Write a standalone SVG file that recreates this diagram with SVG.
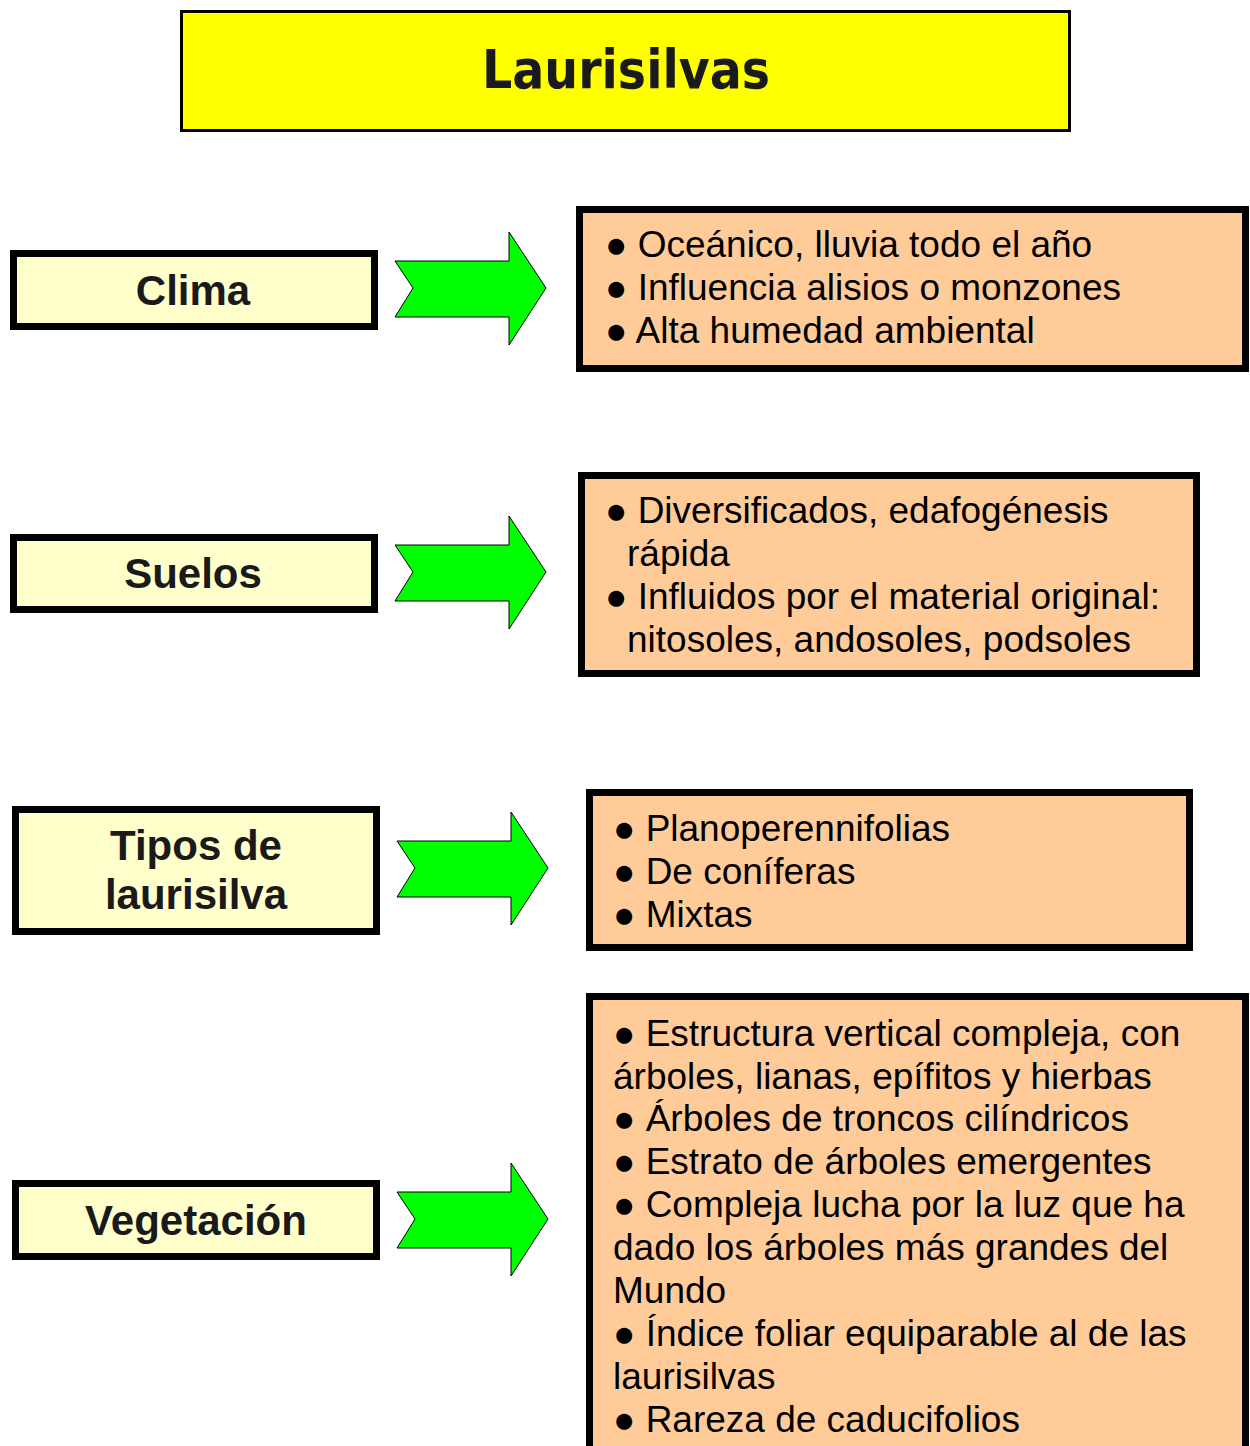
<svg xmlns="http://www.w3.org/2000/svg" width="1250" height="1446" viewBox="0 0 1250 1446">
<defs>
<style>
.title{fill:#ffff00;stroke:#000;stroke-width:3}
.ttxt{font-family:"Comic Sans MS","DejaVu Sans",sans-serif;font-weight:bold;font-size:54px;fill:#1a1a1a;text-anchor:middle}
.lbl{fill:#ffffcc;stroke:#000;stroke-width:7}
.ltxt{font-family:"Liberation Sans",Arial,sans-serif;font-weight:bold;font-size:42px;fill:#1a1a1a;text-anchor:middle}
.cnt{fill:#ffcc99;stroke:#000;stroke-width:7}
.ctxt{font-family:"Liberation Sans",Arial,sans-serif;font-size:37px;fill:#000}
.arr{fill:#00ff00;stroke:#000;stroke-width:1}
</style>
</defs>
<rect width="1250" height="1446" fill="#fff"/>
<g id="title">
<rect class="title" x="181.5" y="11.5" width="888" height="119"/>
<text class="ttxt" x="626" y="88" textLength="288" lengthAdjust="spacingAndGlyphs">Laurisilvas</text>
</g>
<g id="clima">
<rect class="lbl" x="13.5" y="253.5" width="361" height="73"/>
<text class="ltxt" x="193" y="305">Clima</text>
</g>
<g id="clima-info">
<rect class="cnt" x="579.5" y="209.5" width="666" height="159"/>
<text class="ctxt" x="605" y="257">● Oceánico, lluvia todo el año</text>
<text class="ctxt" x="605" y="300">● Influencia alisios o monzones</text>
<text class="ctxt" x="605" y="343">● Alta humedad ambiental</text>
</g>
<g id="suelos">
<rect class="lbl" x="13.5" y="537.5" width="361" height="72"/>
<text class="ltxt" x="193" y="588">Suelos</text>
</g>
<g id="suelos-info">
<rect class="cnt" x="581.5" y="475.5" width="615" height="198"/>
<text class="ctxt" x="605" y="523">● Diversificados, edafogénesis</text>
<text class="ctxt" x="627" y="566">rápida</text>
<text class="ctxt" x="605" y="609">● Influidos por el material original:</text>
<text class="ctxt" x="627" y="652">nitosoles, andosoles, podsoles</text>
</g>
<g id="tipos">
<rect class="lbl" x="15.5" y="809.5" width="361" height="122"/>
<text class="ltxt" x="196" y="860">Tipos de</text>
<text class="ltxt" x="196" y="909">laurisilva</text>
</g>
<g id="tipos-info">
<rect class="cnt" x="589.5" y="792.5" width="600" height="155"/>
<text class="ctxt" x="613" y="841">● Planoperennifolias</text>
<text class="ctxt" x="613" y="884">● De coníferas</text>
<text class="ctxt" x="613" y="927">● Mixtas</text>
</g>
<g id="vegetacion">
<rect class="lbl" x="15.5" y="1183.5" width="361" height="73"/>
<text class="ltxt" x="196" y="1235">Vegetación</text>
</g>
<g id="vegetacion-info">
<rect class="cnt" x="589.5" y="996.5" width="656" height="470"/>
<text class="ctxt" x="613" y="1046">● Estructura vertical compleja, con</text>
<text class="ctxt" x="613" y="1089">árboles, lianas, epífitos y hierbas</text>
<text class="ctxt" x="613" y="1131">● Árboles de troncos cilíndricos</text>
<text class="ctxt" x="613" y="1174">● Estrato de árboles emergentes</text>
<text class="ctxt" x="613" y="1217">● Compleja lucha por la luz que ha</text>
<text class="ctxt" x="613" y="1260">dado los árboles más grandes del</text>
<text class="ctxt" x="613" y="1303">Mundo</text>
<text class="ctxt" x="613" y="1346">● Índice foliar equiparable al de las</text>
<text class="ctxt" x="613" y="1389">laurisilvas</text>
<text class="ctxt" x="613" y="1432">● Rareza de caducifolios</text>
</g>
<g id="connectors">
<polygon class="arr" points="395,261 413,288 395,317 509,317 509,345 546,288 509,232 509,261"/>
<polygon class="arr" points="395,545 413,572 395,601 509,601 509,629 546,572 509,516 509,545"/>
<polygon class="arr" points="397,841 415,868 397,897 511,897 511,925 548,868 511,812 511,841"/>
<polygon class="arr" points="397,1192 415,1219 397,1248 511,1248 511,1276 548,1219 511,1163 511,1192"/>
</g>
</svg>
